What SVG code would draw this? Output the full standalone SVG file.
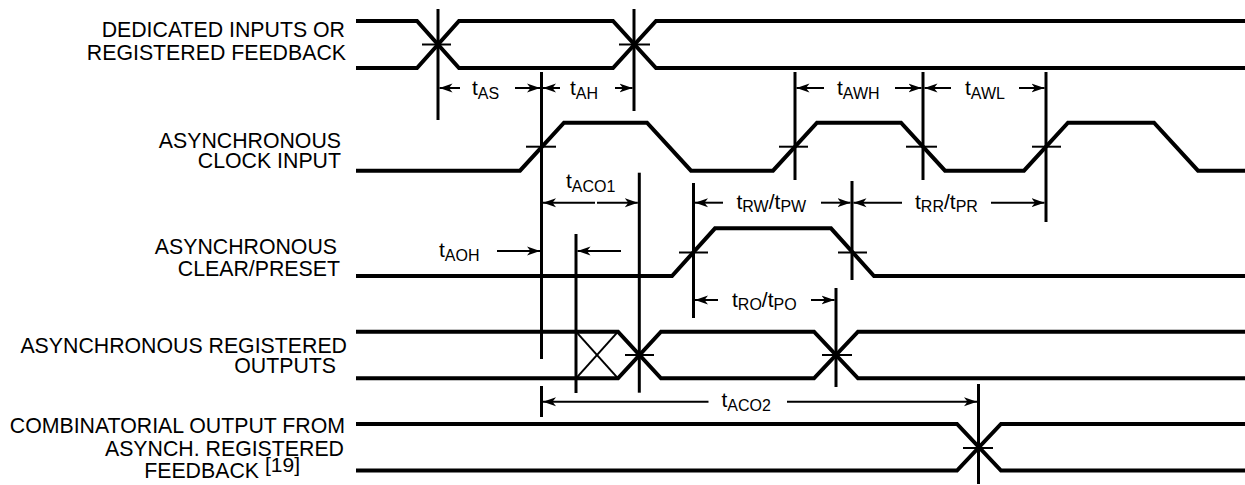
<svg xmlns="http://www.w3.org/2000/svg" width="1245" height="485" viewBox="0 0 1245 485">
<style>
.lbl{font-family:"Liberation Sans",Arial,sans-serif;font-size:21.3px;fill:#000;text-anchor:end}
.t{font-family:"Liberation Sans",Arial,sans-serif;font-size:21px;fill:#000}
.s{font-size:16px}
.sig{fill:none;stroke:#000;stroke-width:4;stroke-linejoin:miter}
.vl{stroke:#000;stroke-width:3;fill:none}
.tk{stroke:#000;stroke-width:2;fill:none}
.ar{stroke:#000;stroke-width:2;fill:none;marker-end:url(#ah)}
.thin{stroke:#000;stroke-width:2;fill:none}
</style>
<defs>
<marker id="ah" markerUnits="userSpaceOnUse" markerWidth="14" markerHeight="10" viewBox="0 -5 14 10" refX="13" refY="0" orient="auto">
<path d="M0,-4.5 L13,0 L0,4.5 L3.5,0 z" fill="#000"/>
</marker>
</defs>
<rect width="1245" height="485" fill="#fff"/>

<g id="labels">
<text class="lbl" x="345" y="37">DEDICATED INPUTS OR</text>
<text class="lbl" x="346" y="60">REGISTERED FEEDBACK</text>
<text class="lbl" x="341" y="148">ASYNCHRONOUS</text>
<text class="lbl" x="341" y="168">CLOCK INPUT</text>
<text class="lbl" x="337" y="254">ASYNCHRONOUS</text>
<text class="lbl" x="340" y="276">CLEAR/PRESET</text>
<text class="lbl" x="347" y="353">ASYNCHRONOUS REGISTERED</text>
<text class="lbl" x="336" y="373">OUTPUTS</text>
<text class="lbl" x="345" y="433">COMBINATORIAL OUTPUT FROM</text>
<text class="lbl" x="344" y="456">ASYNCH. REGISTERED</text>
<text class="lbl" x="259" y="478">FEEDBACK</text>
<text class="t" x="265" y="471.5" font-size="16">[19]</text>
</g>

<g id="sig-inputs">
<path class="sig" d="M356,21 H417 L459,68 H613 L656,21 H1245"/>
<path class="sig" d="M356,68 H417 L459,21 H613 L656,68 H1245"/>
<line class="tk" x1="422" y1="44.5" x2="451" y2="44.5"/>
<line class="tk" x1="619" y1="44.5" x2="650" y2="44.5"/>
</g>

<g id="sig-clock">
<path class="sig" d="M356,170.7 H520 L564,122.7 H647 L691,170.7 H773 L817,122.7 H901 L945,170.7 H1024 L1068,122.7 H1154 L1198,170.7 H1245"/>
<line class="tk" x1="526" y1="146.7" x2="556" y2="146.7"/>
<line class="tk" x1="779" y1="146.7" x2="808" y2="146.7"/>
<line class="tk" x1="906" y1="146.7" x2="937" y2="146.7"/>
<line class="tk" x1="1032" y1="146.7" x2="1061" y2="146.7"/>
</g>

<g id="sig-clear">
<path class="sig" d="M356,276 H672 L715,228.3 H831 L874,276 H1245"/>
<line class="tk" x1="679" y1="252.5" x2="708" y2="252.5"/>
<line class="tk" x1="838" y1="252.5" x2="867" y2="252.5"/>
</g>

<g id="sig-regout">
<path class="sig" d="M356,331.7 H618 L661,378.3 H814 L858,331.7 H1245"/>
<path class="sig" d="M356,378.3 H618 L661,331.7 H814 L858,378.3 H1245"/>
<line class="thin" x1="576" y1="331.7" x2="618" y2="378.3"/>
<line class="thin" x1="576" y1="378.3" x2="618" y2="331.7"/>
<line class="tk" x1="625" y1="355" x2="654" y2="355"/>
<line class="tk" x1="822" y1="355" x2="852" y2="355"/>
</g>

<g id="sig-comb">
<path class="sig" d="M356,424 H957 L1001,470.5 H1245"/>
<path class="sig" d="M356,470.5 H957 L1001,424 H1245"/>
<line class="tk" x1="963" y1="448" x2="993" y2="448"/>
</g>

<g id="connectors">
<line class="vl" x1="438" y1="9" x2="438" y2="120"/>
<line class="vl" x1="634" y1="9" x2="634" y2="111"/>
<line class="vl" x1="541.5" y1="72" x2="541.5" y2="359"/>
<line class="vl" x1="795" y1="72" x2="795" y2="180"/>
<line class="vl" x1="923" y1="72" x2="923" y2="180"/>
<line class="vl" x1="1046" y1="72" x2="1046" y2="222"/>
<line class="vl" x1="639.3" y1="172.7" x2="639.3" y2="392.7"/>
<line class="vl" x1="576" y1="234" x2="576" y2="393"/>
<line class="vl" x1="693.5" y1="183" x2="693.5" y2="318"/>
<line class="vl" x1="852" y1="181" x2="852" y2="280"/>
<line class="vl" x1="836" y1="288" x2="836" y2="387"/>
<line class="vl" x1="541.5" y1="386" x2="541.5" y2="417"/>
<line class="vl" x1="978.5" y1="384" x2="978.5" y2="484"/>

<line class="ar" x1="460" y1="88" x2="439.5" y2="88"/>
<line class="ar" x1="515" y1="88" x2="540" y2="88"/>
<line class="ar" x1="560" y1="88" x2="543" y2="88"/>
<line class="ar" x1="615" y1="88" x2="632.5" y2="88"/>
<line class="ar" x1="824" y1="88" x2="796.5" y2="88"/>
<line class="ar" x1="895" y1="88" x2="921.5" y2="88"/>
<line class="ar" x1="951" y1="88" x2="924.5" y2="88"/>
<line class="ar" x1="1019" y1="88" x2="1044.5" y2="88"/>

<line class="ar" x1="595" y1="202.7" x2="543" y2="202.7"/>
<line class="ar" x1="597" y1="202.7" x2="637.8" y2="202.7"/>
<line class="ar" x1="723" y1="202.7" x2="695" y2="202.7"/>
<line class="ar" x1="821" y1="202.7" x2="850.5" y2="202.7"/>
<line class="ar" x1="902" y1="202.7" x2="853.5" y2="202.7"/>
<line class="ar" x1="991" y1="202.7" x2="1044.5" y2="202.7"/>

<line class="ar" x1="497" y1="251" x2="540" y2="251"/>
<line class="ar" x1="621" y1="251" x2="577.5" y2="251"/>

<line class="ar" x1="718" y1="300" x2="695" y2="300"/>
<line class="ar" x1="811" y1="300" x2="834.5" y2="300"/>

<line class="ar" x1="708.5" y1="401.7" x2="543" y2="401.7"/>
<line class="ar" x1="787" y1="401.7" x2="977" y2="401.7"/>

<text class="t" x="472" y="95">t<tspan class="s" dy="4">AS</tspan></text>
<text class="t" x="570" y="95">t<tspan class="s" dy="4">AH</tspan></text>
<text class="t" x="837" y="95">t<tspan class="s" dy="4">AWH</tspan></text>
<text class="t" x="965" y="95">t<tspan class="s" dy="4">AWL</tspan></text>
<text class="t" x="566" y="188">t<tspan class="s" dy="4">ACO1</tspan></text>
<text class="t" x="736.5" y="209">t<tspan class="s" dy="3">RW</tspan><tspan dy="-3">/t</tspan><tspan class="s" dy="3">PW</tspan></text>
<text class="t" x="915" y="209">t<tspan class="s" dy="3">RR</tspan><tspan dy="-3">/t</tspan><tspan class="s" dy="3">PR</tspan></text>
<text class="t" x="439" y="256.5">t<tspan class="s" dy="4">AOH</tspan></text>
<text class="t" x="732" y="306.5">t<tspan class="s" dy="3">RO</tspan><tspan dy="-3">/t</tspan><tspan class="s" dy="3">PO</tspan></text>
<text class="t" x="721.5" y="407">t<tspan class="s" dy="4">ACO2</tspan></text>
</g>
</svg>
